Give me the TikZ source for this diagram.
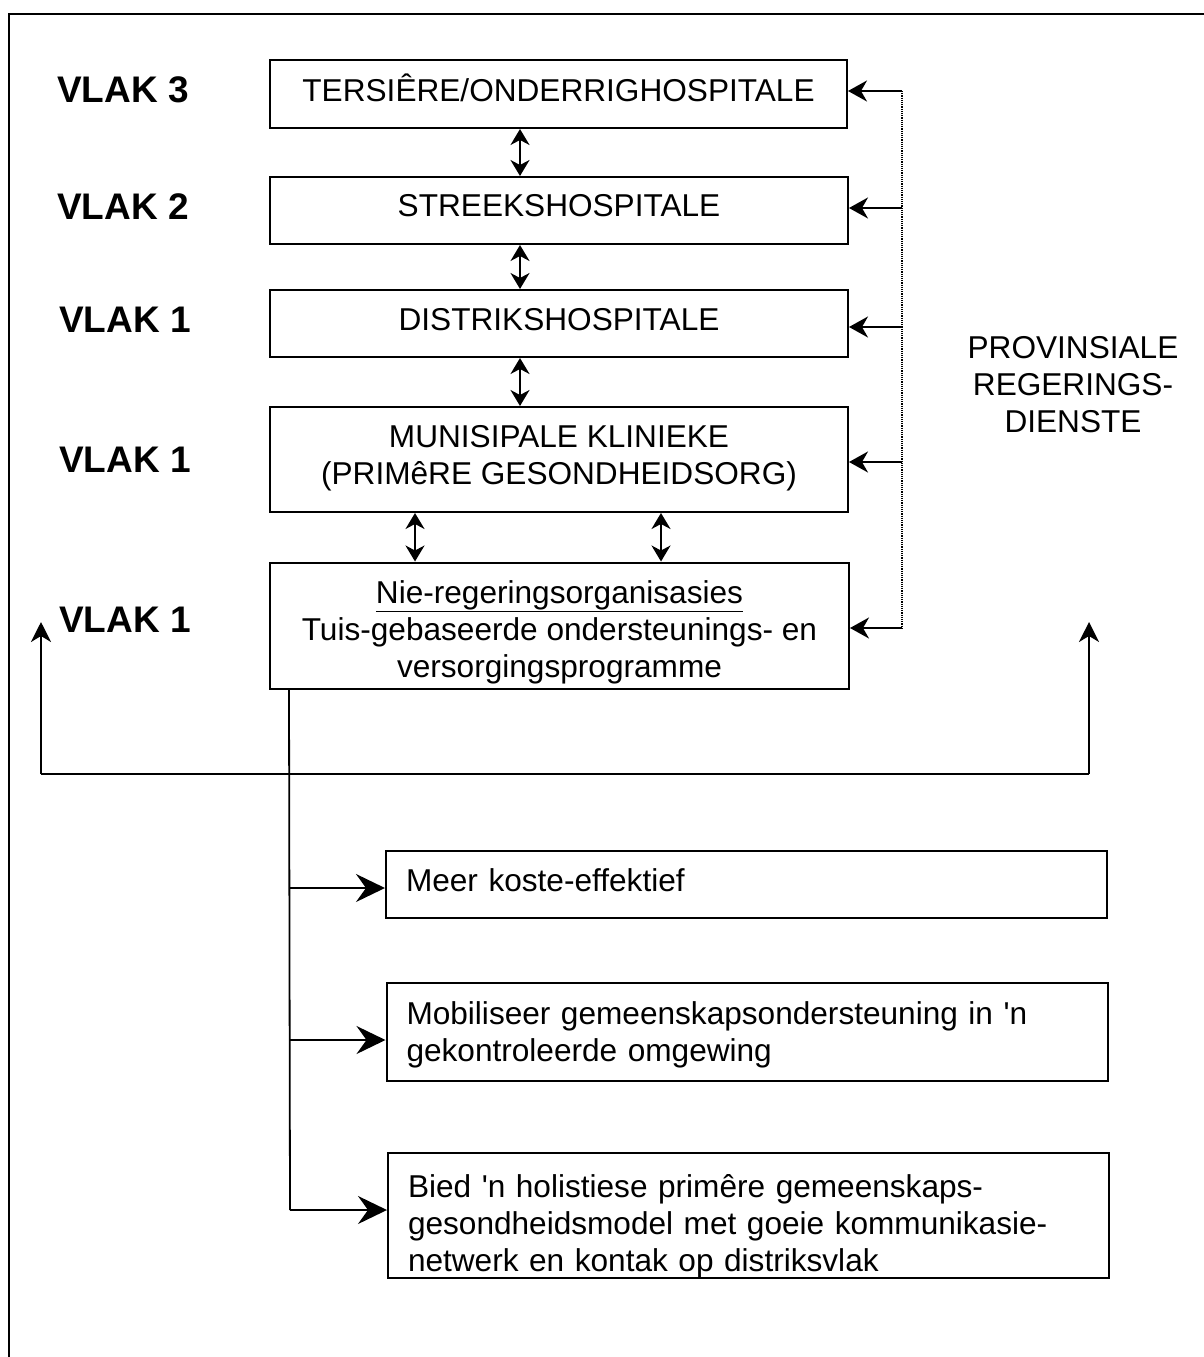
\documentclass[tikz,border=0pt]{standalone}
\usepackage{fontspec}
\newfontfamily\lib{Liberation Sans}
\usetikzlibrary{arrows.meta}
\begin{document}
\begin{tikzpicture}[x=1pt,y=-1pt,
  every node/.style={font=\lib\fontsize{31.6}{37}\selectfont},
  box/.style={draw, line width=2pt, inner sep=0pt, align=center},
  lbox/.style={draw, line width=2pt, inner ysep=0pt, inner xsep=20pt, align=left, text width=681pt},
  lvl/.style={font=\lib\bfseries\fontsize{37}{40}\selectfont, anchor=west, inner sep=0pt},
  conn/.style={line width=1.8pt},
  inarrow/.style={conn, -{Stealth[length=19pt,width=21pt,inset=6pt]}},
  dbl/.style={conn, {Stealth[length=16pt,width=19pt,inset=5pt]}-{Stealth[length=16pt,width=19pt,inset=5pt]}},
  bigarrow/.style={conn, -{Stealth[length=29pt,width=28pt,inset=10pt]}},
  uparrow/.style={conn, -{Stealth[length=20pt,width=20pt,inset=6pt]}}
]
\useasboundingbox (0,0) rectangle (1204,1357);
% outer frame
\draw[line width=2pt] (9,1357) -- (9,14) -- (1204,14);

% level labels
\node[lvl] (v3) at (57,90) {VLAK 3};
\node[lvl] (v2) at (57,207) {VLAK 2};
\node[lvl] (v1a) at (59,320) {VLAK 1};
\node[lvl] (v1b) at (59,460) {VLAK 1};
\node[lvl] (v1c) at (59,620) {VLAK 1};

% hierarchy boxes
\node[box, minimum width=577pt, minimum height=68pt, text height=24pt, text depth=9.4pt] (b1) at (558.5,94) {TERSIÊRE/ONDERRIGHOSPITALE};
\node[box, minimum width=578pt, minimum height=67pt, text height=24pt, text depth=13pt] (b2) at (559,210.5) {STREEKSHOSPITALE};
\node[box, minimum width=578pt, minimum height=67pt, text height=24pt, text depth=10.4pt] (b3) at (559,323.5) {DISTRIKSHOSPITALE};
\node[box, minimum width=578pt, minimum height=105pt, text height=61pt, text depth=11.4pt] (b4) at (559,459.5) {MUNISIPALE KLINIEKE\\(PRIMêRE GESONDHEIDSORG)};
\node[box, minimum width=579pt, minimum height=126pt, text height=111.6pt, text depth=8pt] (b5) at (559.5,625.5) {\underline{Nie-regeringsorganisasies}\\Tuis-gebaseerde ondersteunings- en\\versorgingsprogramme};

\node[align=center, inner sep=0pt] (prov) at (1073,385) {PROVINSIALE\\REGERINGS-\\DIENSTE};

% double arrows between levels
\draw[dbl] ([xshift=-38.5pt]b1.south) -- ([xshift=-38.5pt]b1.south |- b2.north);
\draw[dbl] ([xshift=-39pt]b2.south) -- ([xshift=-39pt]b2.south |- b3.north);
\draw[dbl] ([xshift=-39pt]b3.south) -- ([xshift=-39pt]b3.south |- b4.north);
\draw[dbl] ([xshift=146pt]b4.south west) -- ([xshift=146pt]b4.south west |- b5.north);
\draw[dbl] ([xshift=392pt]b4.south west) -- ([xshift=392pt]b4.south west |- b5.north);

% provincial feed on the right
\coordinate (p1) at (902,91);
\coordinate (p2) at (902,208);
\coordinate (p3) at (902,327);
\coordinate (p4) at (902,462);
\coordinate (p5) at (902,628);
\draw[line width=1.2pt, densely dotted] (p1) -- (p5);
\draw[inarrow] (p1) -- (p1 -| b1.east);
\draw[inarrow] (p2) -- (p2 -| b2.east);
\draw[inarrow] (p3) -- (p3 -| b3.east);
\draw[inarrow] (p4) -- (p4 -| b4.east);
\draw[inarrow] (p5) -- (p5 -| b5.east);

% outcome boxes
\node[lbox, minimum height=67pt, text height=24pt, text depth=10.4pt] (b6) at (746.5,884.5) {Meer koste-effektief};
\node[lbox, minimum height=98pt, text height=24pt, text depth=39.4pt] (b7) at (747,1032) {Mobiliseer gemeenskapsondersteuning in 'n\\gekontroleerde omgewing};
\node[lbox, minimum height=125pt, text height=24pt, text depth=60.4pt] (b8) at (748.5,1215.5) {Bied 'n holistiese primêre gemeenskaps-\\gesondheidsmodel met goeie kommunikasie-\\netwerk en kontak op distriksvlak};

% trunk from NGO box
\coordinate (t0) at ([xshift=20pt]b5.south west);
\coordinate (t1) at (290,888);
\coordinate (t2) at (290,1040);
\coordinate (t3) at (290,1210);
\draw[conn] (t0) -- (t3);
\draw[bigarrow] (t1) -- (t1 -| b6.west);
\draw[bigarrow] (t2) -- (t2 -| b7.west);
\draw[bigarrow] (t3) -- (t3 -| b8.west);

% horizontal feedback line
\coordinate (hl) at (41,774);
\coordinate (hr) at (1089,774);
\coordinate (hlt) at (41,622);
\coordinate (hrt) at (1089,622);
\draw[conn] (hl) -- (hr);
\draw[uparrow] (hl) -- (hlt);
\draw[uparrow] (hr) -- (hrt);
\end{tikzpicture}
\end{document}
